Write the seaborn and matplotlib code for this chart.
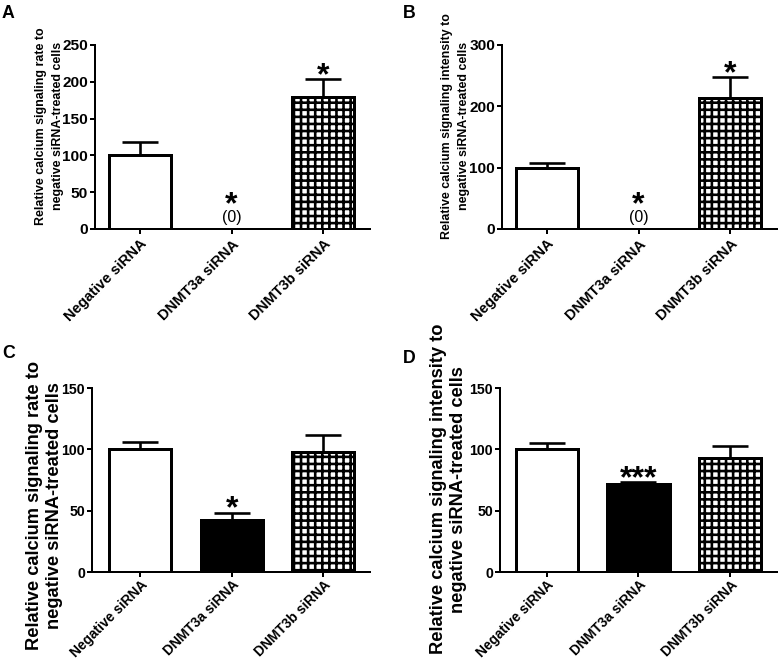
import matplotlib
matplotlib.use("Agg")
import matplotlib.pyplot as plt
import seaborn as sns
import numpy as np
import pandas as pd

# values (mean and upper SEM)
categories = ["Negative siRNA", "DNMT3a siRNA", "DNMT3b siRNA"]

rate_1 = [100, 0, 179]
rate_1_sem = [18, 0, 25]
intensity_1 = [100, 0, 213]
intensity_1_sem = [8, 0, 35]
rate_2 = [100, 42.5, 97.5]
rate_2_sem = [6, 6, 14]
intensity_2 = [100, 72, 93]
intensity_2_sem = [5, 1, 10]

stars_1 = ["", "*", "*"]
stars_2 = ["", "*", ""]
stars_3 = ["", "***", ""]

label_rate = "Relative calcium signaling rate to\nnegative siRNA-treated cells"
label_intensity = "Relative calcium signaling intensity to\nnegative siRNA-treated cells"

DPI = 85
W, H = 782, 663


def pt(px):
    # pixels -> points at the output dpi
    return px * 72 / DPI


sns.set_style("ticks", rc={"axes.edgecolor": "black", "xtick.color": "black",
                           "ytick.color": "black", "text.color": "black",
                           "axes.labelcolor": "black"})
plt.rcParams['font.family'] = ['Liberation Sans', 'DejaVu Sans']
plt.rcParams['hatch.linewidth'] = pt(2.6)
plt.rcParams['hatch.color'] = 'black'


def draw_panel(ax, values, sem, stars, ylabel, ymax, ystep, xlim,
               tick_size, xtick_size, xpad, label_size, label_spacing, label_xy):
    df = pd.DataFrame({"group": categories, "value": values})
    sns.barplot(data=df, x="group", y="value", ax=ax, width=0.68, errorbar=None,
                color="white", saturation=1, edgecolor="black", linewidth=pt(3))
    for patch, face in zip(ax.patches, ["white", "black", "white"]):
        patch.set_facecolor(face)
        patch.set_edgecolor("black")
    ax.patches[2].set_hatch("++")

    # upper error bars only (skip bars that are zero)
    idx = [i for i, v in enumerate(values) if v > 0]
    ax.errorbar(idx, [values[i] for i in idx],
                yerr=[[0] * len(idx), [sem[i] for i in idx]],
                fmt="none", ecolor="black", elinewidth=pt(2.6),
                capsize=pt(18), capthick=pt(2.6), zorder=1)

    for i, s in enumerate(stars):
        if not s:
            continue
        if values[i] > 0:
            ax.annotate(s, xy=(i, values[i] + sem[i]), xytext=(0, pt(-5)),
                        textcoords="offset points", ha="center", va="baseline",
                        fontsize=27, fontweight="bold", annotation_clip=False)
        else:
            ax.annotate(s, xy=(i, 0), xytext=(0, pt(16)),
                        textcoords="offset points", ha="center", va="baseline",
                        fontsize=27, fontweight="bold")
            ax.annotate("(0)", xy=(i, 0), xytext=(0, pt(7)),
                        textcoords="offset points", ha="center", va="baseline",
                        fontsize=13.5)

    ax.set_ylim(0, ymax)
    ax.set_yticks(np.arange(0, ymax + 1, ystep))
    ax.set_xlim(*xlim)
    ax.set_xticks(range(len(categories)))
    ax.set_xticklabels(categories, rotation=45, ha="right", va="top",
                       rotation_mode="anchor", fontweight="bold", fontsize=xtick_size)
    for t in ax.get_yticklabels():
        t.set_fontweight("bold")
        t.set_fontsize(tick_size)
    ax.tick_params(axis="both", length=pt(5), width=pt(2), direction="out")
    ax.tick_params(axis="y", pad=pt(2))
    ax.tick_params(axis="x", pad=pt(xpad))
    ax.set_xlabel("")
    ax.set_ylabel(ylabel, fontsize=label_size, fontweight="bold",
                  linespacing=label_spacing, multialignment="center")
    ax.yaxis.set_label_coords(*label_xy)
    sns.despine(ax=ax)
    for sp in ["left", "bottom"]:
        ax.spines[sp].set_linewidth(pt(2))


fig = plt.figure(figsize=(W / DPI, H / DPI), dpi=DPI)
fig.patch.set_facecolor("white")

ax_a = fig.add_axes([95 / W, 1 - 229 / H, 275 / W, 184 / H])
ax_b = fig.add_axes([502 / W, 1 - 229 / H, 275 / W, 184 / H])
ax_c = fig.add_axes([92 / W, 1 - 572 / H, 278 / W, 184 / H])
ax_d = fig.add_axes([500 / W, 1 - 572 / H, 277 / W, 184 / H])

draw_panel(ax_a, rate_1, rate_1_sem, stars_1, label_rate, 250, 50, (-0.49, 2.51),
           13, 12.5, 3, 10.5, 1.6, (-0.113, 0.56))
draw_panel(ax_b, intensity_1, intensity_1_sem, stars_1, label_intensity, 300, 100, (-0.49, 2.51),
           13, 12.5, 3, 10.5, 1.6, (-0.116, 0.56))
draw_panel(ax_c, rate_2, rate_2_sem, stars_2, label_rate, 150, 50, (-0.525, 2.51),
           12, 11.6, 1, 15.5, 1.2, (-0.105, 0.36))
draw_panel(ax_d, intensity_2, intensity_2_sem, stars_3, label_intensity, 150, 50, (-0.51, 2.51),
           12, 11.6, 1, 15.5, 1.2, (-0.12, 0.45))

for letter, x, y in [("A", 2, 18.5), ("B", 403, 18.5), ("C", 2, 358), ("D", 403, 363)]:
    fig.text(x / W, 1 - y / H, letter, fontsize=15, fontweight="bold", ha="left", va="baseline")

fig.savefig("out.png", dpi=DPI)
